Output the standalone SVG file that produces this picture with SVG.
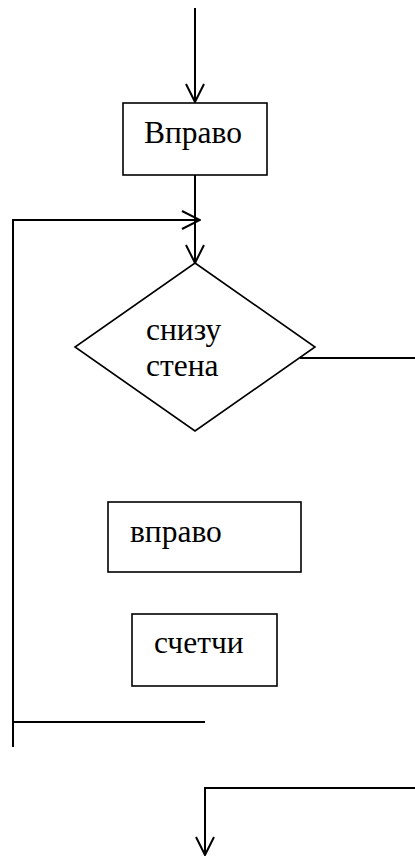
<svg xmlns="http://www.w3.org/2000/svg" width="415" height="856" viewBox="0 0 415 856">
<style>
.box{fill:#fff;stroke:#000;stroke-width:1.6}
.ln{fill:none;stroke:#000;stroke-width:2}
.t{font-family:"Liberation Serif","Times New Roman",serif;font-size:31.5px;fill:#000}
</style>
<defs>
<marker id="arr" viewBox="0 0 20 20" refX="19" refY="10" markerWidth="20" markerHeight="20" markerUnits="userSpaceOnUse" orient="auto">
<path d="M1,1 L19,10 L1,19" fill="none" stroke="#000" stroke-width="2"/>
</marker>
</defs>
<rect width="415" height="856" fill="#fff"/>
<g id="connectors">
<line class="ln" x1="195" y1="8" x2="195" y2="102" marker-end="url(#arr)"/>
<line class="ln" x1="195" y1="175" x2="195" y2="263" marker-end="url(#arr)"/>
<polyline class="ln" points="13,747 13,220 200,220" marker-end="url(#arr)"/>
<line class="ln" x1="300" y1="358" x2="415" y2="358"/>
<line class="ln" x1="13" y1="722" x2="205" y2="722"/>
<polyline class="ln" points="415,788 205,788 205,855" marker-end="url(#arr)"/>
</g>
<g id="node-vpravo1">
<rect class="box" x="123" y="103" width="144" height="72"/>
<text class="t" x="144" y="143">Вправо</text>
</g>
<g id="node-decision">
<polygon class="box" points="195,263 315,347 195,431 75,347"/>
<text class="t" x="146" y="340">снизу</text>
<text class="t" x="146" y="376">стена</text>
</g>
<g id="node-vpravo2">
<rect class="box" x="108" y="502" width="193" height="70"/>
<text class="t" x="130" y="542">вправо</text>
</g>
<g id="node-schetchi">
<rect class="box" x="132" y="614" width="145" height="72"/>
<text class="t" x="154" y="653">счетчи</text>
</g>
</svg>
